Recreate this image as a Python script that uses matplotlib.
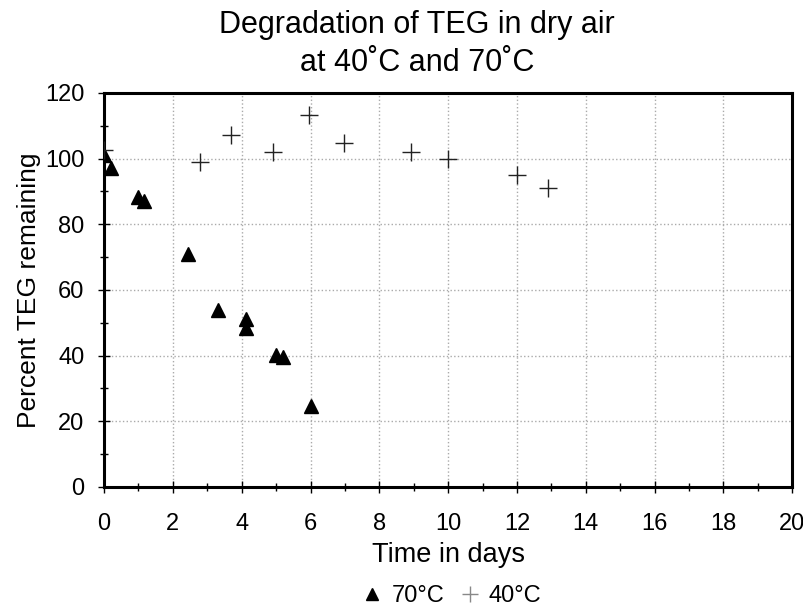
import matplotlib
matplotlib.use("Agg")
import matplotlib.pyplot as plt
from matplotlib.ticker import MultipleLocator

plt.rcParams['font.family'] = ['Liberation Sans', 'DejaVu Sans']

# 70 C series (triangles)
days_70 = [0.0, 0.2, 1.0, 1.15, 2.45, 3.3, 4.13, 4.14, 5.0, 5.2, 6.0]
pct_70 = [101, 97, 88.3, 87, 71, 54, 51.2, 48.5, 40.2, 39.5, 24.7]

# 40 C series (plus signs)
days_40 = [0.0, 2.8, 3.7, 4.92, 5.96, 6.98, 8.92, 10.0, 12.0, 12.9]
pct_40 = [102.5, 99, 107.2, 101.9, 113.3, 104.8, 102, 99.8, 95.0, 90.9]

fig = plt.figure(figsize=(8.04, 6.11), dpi=100)
ax = fig.add_axes([0.1294, 0.203, 0.856, 0.645])

ax.plot(days_70, pct_70, linestyle='none', marker='^', color='black',
        markersize=10, label='70°C', zorder=3)
ax.plot(days_40, pct_40, linestyle='none', marker='+', color='#222222',
        markersize=13, markeredgewidth=1.0, label='40°C', zorder=3)

ax.set_xlim(0, 20)
ax.set_ylim(0, 120)
ax.xaxis.set_major_locator(MultipleLocator(2))
ax.xaxis.set_minor_locator(MultipleLocator(1))
ax.yaxis.set_major_locator(MultipleLocator(20))
ax.yaxis.set_minor_locator(MultipleLocator(10))

ax.grid(True, which='major', color='#aaaaaa', linestyle=':', linewidth=1)
ax.set_axisbelow(True)
for s in ax.spines.values():
    s.set_linewidth(2.2)
    s.set_color('black')

ax.tick_params(axis='both', which='major', direction='inout', length=8,
               width=1, labelsize=17, colors='black')
ax.tick_params(axis='both', which='minor', direction='inout', length=6, width=1)
ax.tick_params(axis='x', which='major', pad=15)
ax.tick_params(axis='y', which='major', pad=10)

ax.set_xlabel('Time in days', fontsize=19.5, labelpad=5)
ax.set_ylabel('Percent TEG remaining', fontsize=19, labelpad=3)

fig.text(0.519, 0.928, 'Degradation of TEG in dry air\nat 40˚C and 70˚C',
         fontsize=22, ha='center', va='center', linespacing=1.35)

leg = fig.legend(loc='center', bbox_to_anchor=(0.561, 0.024), ncol=2,
                 frameon=False, fontsize=17, handletextpad=0.3,
                 columnspacing=0.6, handlelength=1.0, borderpad=0)
leg.legend_handles[0].set_markersize(8)
leg.legend_handles[1].set_markersize(11)
leg.legend_handles[1].set_color('#888888')

fig.savefig('out.png', dpi=100)
